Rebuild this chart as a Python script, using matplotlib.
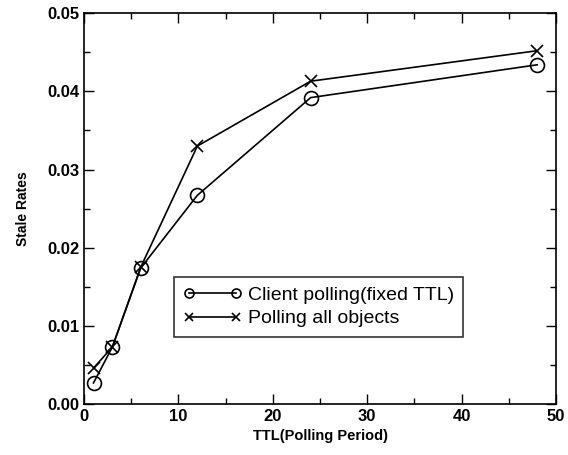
import matplotlib
matplotlib.use("Agg")
import matplotlib.pyplot as plt
from matplotlib.ticker import MultipleLocator
from matplotlib.legend_handler import HandlerLine2D

plt.rcParams['font.family'] = ['Liberation Sans', 'DejaVu Sans']

ttl = [1, 3, 6, 12, 24, 48]
client_fixed = [0.0027, 0.0073, 0.0174, 0.0267, 0.0392, 0.0434]
poll_all = [0.0046, 0.0073, 0.0175, 0.0330, 0.0413, 0.0452]

fig = plt.figure(figsize=(5.68, 4.55), dpi=100)
ax = fig.add_axes([0.148, 0.112, 0.831, 0.859])

ax.plot(ttl, client_fixed, color="black", lw=1.2, marker="o", ms=10,
        mfc="none", mec="black", mew=1.2, label="Client polling(fixed TTL)")
ax.plot(ttl, poll_all, color="black", lw=1.2, marker="x", ms=8,
        mew=1.2, label="Polling all objects")

ax.set_xlim(0, 50)
ax.set_ylim(0, 0.05)
ax.xaxis.set_major_locator(MultipleLocator(10))
ax.xaxis.set_minor_locator(MultipleLocator(5))
ax.yaxis.set_major_locator(MultipleLocator(0.01))
ax.yaxis.set_minor_locator(MultipleLocator(0.005))
ax.yaxis.set_major_formatter(plt.FormatStrFormatter("%.2f"))
ax.tick_params(which="both", direction="in", top=True, right=True, width=1)
ax.tick_params(which="major", length=7, labelsize=12)
ax.tick_params(which="minor", length=4)
for lab in ax.get_xticklabels() + ax.get_yticklabels():
    lab.set_fontweight("bold")
for s in ax.spines.values():
    s.set_linewidth(1.2)

ax.set_xlabel("TTL(Polling Period)", fontsize=10.5, fontweight="bold")
ax.set_ylabel("Stale Rates", fontsize=10, fontweight="bold", labelpad=12)

# smaller markers in the legend than on the plot
def small_marker(legline, orig):
    legline.update_from(orig)
    legline.set_markersize(orig.get_markersize() * 0.65)

leg = ax.legend(loc="lower left", bbox_to_anchor=(0.19, 0.171), numpoints=2,
                fontsize=14, frameon=True, fancybox=False, edgecolor="black",
                handlelength=3.0, handletextpad=0.3, borderpad=0.5,
                labelspacing=0.3, borderaxespad=0,
                handler_map={plt.Line2D: HandlerLine2D(update_func=small_marker)})
leg.get_frame().set_linewidth(1.2)

fig.savefig("out.png", dpi=100)
